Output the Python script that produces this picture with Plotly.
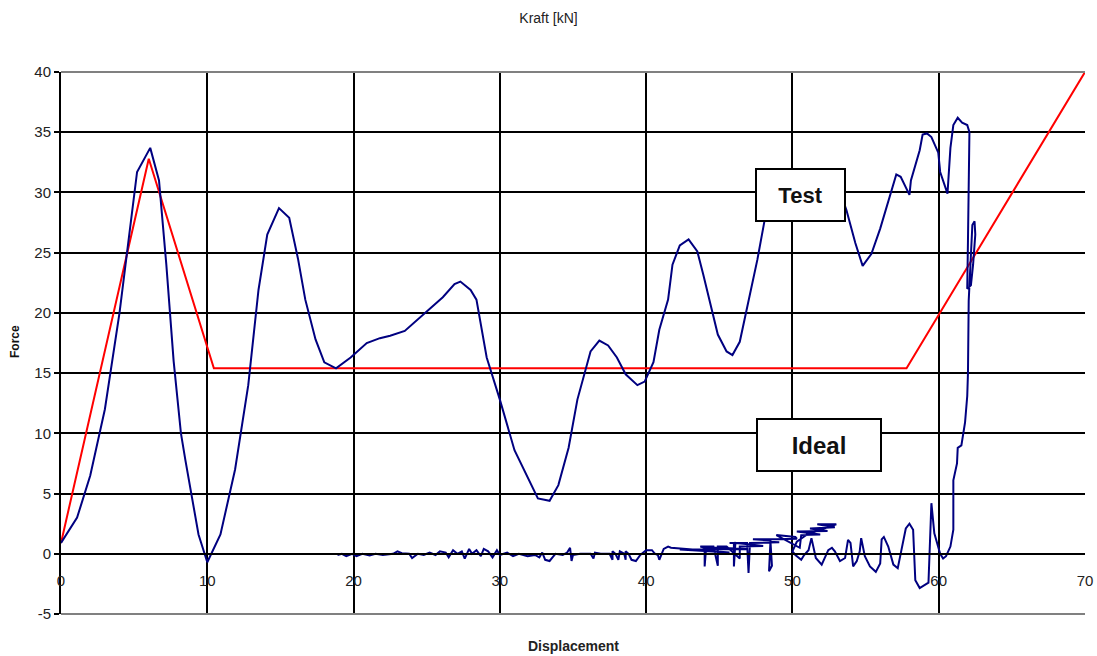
import plotly.graph_objects as go

# Ideal curve
ideal_x = [0, 6.0, 10.45, 57.8, 70]
ideal_y = [0.9, 32.8, 15.4, 15.4, 40]

# Test curve - main loading part
main_x = [0, 1.1, 2.0, 3.0, 4.0, 4.6, 5.2, 6.1, 6.7, 7.2, 7.7, 8.2, 8.5, 9.4, 10.0, 10.9, 11.9, 12.8,
          13.5, 14.1, 14.9, 15.6, 16.2, 16.7, 17.4, 18.0, 18.8, 19.8, 20.9, 21.8, 22.5, 23.5, 25.0,
          26.1, 26.9, 27.3, 28.0, 28.4, 29.1, 30.0, 31.0, 31.9, 32.6, 33.4, 34.0, 34.7, 35.3, 36.2,
          36.8, 37.4, 38.0, 38.6, 39.4, 39.9, 40.5, 40.9, 41.5, 41.8, 42.3, 42.9, 43.5, 43.9, 44.4,
          44.9, 45.5, 45.9, 46.4, 46.96, 47.6, 48.1, 48.5, 49.5, 51.0, 52.5, 53.5, 53.7, 54.3, 54.8,
          55.4, 56.0, 56.5, 57.1, 57.4, 57.7, 58.0, 58.1, 58.7, 58.9, 59.2, 59.5, 59.97, 60.1, 60.6,
          60.8, 61.0, 61.3, 61.6, 61.95, 62.1, 62.0, 61.95, 62.2, 62.35, 62.5, 62.45, 62.3, 62.2,
          62.05, 62.0, 61.95, 61.8, 61.55, 61.3, 61.25, 61.0, 61.0, 60.8, 60.5, 60.3, 60.1]
main_y = [0.9, 3.0, 6.5, 12.0, 20.0, 26.0, 31.7, 33.7, 31.0, 24.0, 16.0, 10.0, 7.8, 1.6, -0.7, 1.6, 7.0, 14.0,
          21.9, 26.5, 28.7, 27.9, 24.5, 21.1, 17.8, 15.9, 15.4, 16.3, 17.5, 17.9, 18.1, 18.5, 20.1,
          21.3, 22.4, 22.6, 21.9, 21.1, 16.3, 12.8, 8.6, 6.3, 4.6, 4.4, 5.7, 8.8, 12.8, 16.8,
          17.7, 17.3, 16.3, 14.9, 14.0, 14.3, 15.9, 18.6, 21.1, 24.0, 25.6, 26.1, 25.1, 23.2, 20.7,
          18.2, 16.8, 16.5, 17.6, 20.7, 24.4, 27.7, 29.4, 30.5, 31.0, 30.5, 29.2, 28.5, 25.8, 23.9,
          24.9, 27.0, 29.0, 31.5, 31.3, 30.5, 29.8, 31.0, 33.5, 34.8, 34.9, 34.6, 33.3, 31.7, 29.9,
          33.7, 35.6, 36.2, 35.8, 35.6, 35.0, 26.0, 22.0, 22.3, 24.0, 26.5, 27.6, 27.3, 25.0,
          21.0, 15.0, 13.1, 10.9, 9.0, 8.8, 7.5, 6.1, 2.0, 0.6, -0.2, -0.4, 0.0]

# Test curve - unloading / return part near zero force
ret_x = [59.7, 59.5, 59.3, 58.7, 58.4, 58.25, 58.0, 57.75, 57.45, 57.2, 56.9, 56.55, 56.25, 56.1, 56.0,
         55.7, 55.3, 54.95, 54.7, 54.6, 54.4, 54.15, 53.97, 53.8, 53.6, 53.25, 52.9, 52.7, 52.45, 52.2,
         52.0, 51.6, 51.4, 51.3, 51.1, 50.8, 50.6, 50.2, 50.0, 50.3, 51.0, 52.5, 53.0,
         51.7, 52.4, 52.9, 51.2, 52.0, 52.4, 50.3, 51.5, 51.9, 50.6, 50.5, 48.9, 50.2, 50.3,
         49.0, 48.9, 47.3, 48.5, 48.4, 48.6, 48.5, 49.1, 47.1, 47.0, 46.9, 45.7, 46.0, 46.0, 46.1,
         47.0, 48.0, 46.4, 46.4, 45.5, 44.9, 44.9, 44.6, 43.7, 44.0, 44.0, 44.1, 45.0, 46.9, 42.3,
         44.0, 45.7, 41.7, 41.5, 41.2, 40.9, 40.8, 40.6, 40.4, 40.0, 39.6, 39.3, 39.0, 38.8, 38.6,
         38.6, 38.5, 38.2, 38.1, 37.9, 37.7, 37.7, 37.5, 36.9, 36.5, 36.4, 36.2, 35.5, 35.0, 34.9,
         34.8, 34.6, 34.3, 33.8, 33.6, 33.4, 33.1, 32.9, 32.7, 32.4, 31.9, 31.3, 30.9, 30.5, 30.0,
         29.8, 29.5, 29.2, 28.9, 28.7, 28.4, 28.1, 27.9, 27.6, 27.4, 27.1, 26.8, 26.5, 26.3, 25.9,
         25.6, 25.2, 24.8, 24.4, 24.0, 23.8, 23.3, 23.0, 22.7, 22.0, 21.5, 21.1, 20.6, 20.2, 19.9,
         19.5, 19.2, 18.9]
ret_y = [1.7, 4.2, -2.4, -2.85, -2.2, 2.0, 2.5, 2.1, 0.3, -1.2, -0.9, 0.6, 1.4, 1.2, -0.8,
         -1.5, -1.05, -0.2, 1.3, 0.2, -0.6, -1.05, 0.9, 1.15, -0.35, -0.6, 0.2, 0.5, 0.3, -0.35,
         -0.9, -0.35, 0.75, 1.3, 0.3, -0.1, -0.5, -0.1, 0.2, 1.0, 1.6, 2.2, 2.45,
         2.45, 2.3, 2.2, 2.1, 2.0, 1.9, 1.85, 1.7, 1.6, 1.55, 0.5, 1.55, 1.4, 1.25,
         1.2, 1.2, 1.2, 1.1, -1.45, -1.0, 1.0, 0.95, 0.9, -1.6, 0.9, 0.9, 0.9, -1.05, 0.9,
         0.8, 0.65, 0.6, -0.4, 0.6, 0.6, -1.0, 0.6, 0.6, 0.5, -1.05, 0.5, 0.5, 0.4, 0.35,
         0.2, 0.1, 0.5, 0.6, 0.4, -0.5, -0.1, 0.0, 0.3, 0.3, -0.1, -0.6, -0.5, 0.0, 0.2,
         -0.5, 0.0, 0.2, -0.5, 0.0, 0.2, -0.5, 0.0, 0.0, 0.1, -0.4, 0.0, 0.0, -0.1, -0.6,
         0.5, 0.1, -0.1, 0.0, -0.3, -0.6, -0.5, 0.1, -0.3, -0.1, -0.2, 0.0, -0.2, 0.1, -0.1,
         0.3, -0.3, 0.2, 0.4, -0.2, 0.3, 0.0, 0.4, -0.4, 0.2, 0.0, 0.3, -0.3, 0.1, 0.2,
         -0.1, 0.1, -0.1, 0.0, -0.35, 0.0, 0.05, 0.2, 0.0, -0.1, 0.0, -0.15, 0.0, -0.2, 0.0,
         -0.2, 0.0, -0.1]

x_ticks = [0, 10, 20, 30, 40, 50, 60, 70]
y_ticks = [-5, 0, 5, 10, 15, 20, 25, 30, 35, 40]
y_tick_text = ["-5", "0", "5", "10", "15", "20", "25", "30", "35", "40"]

test_x = main_x + ret_x
test_y = main_y + ret_y

fig = go.Figure()
fig.add_trace(go.Scatter(x=ideal_x, y=ideal_y, mode="lines", name="Ideal",
                         line=dict(color="#FF0000", width=2)))
fig.add_trace(go.Scatter(x=test_x, y=test_y, mode="lines", name="Test",
                         line=dict(color="#000080", width=2)))

font_family = "Liberation Sans, Arial, sans-serif"

fig.update_layout(
    width=1097, height=656,
    margin=dict(l=61, r=12, t=72, b=42, autoexpand=False),
    paper_bgcolor="white", plot_bgcolor="white",
    showlegend=False,
    font=dict(family=font_family, size=15, color="#222"),
    title=dict(text="Kraft [kN]", x=0.5, xref="container", xanchor="center",
               y=1 - 18 / 656, yref="container", yanchor="middle",
               font=dict(size=14, color="#222", family=font_family)),
    xaxis=dict(range=[0, 70], tickvals=x_ticks, showgrid=True, gridcolor="black", gridwidth=1.5,
               zeroline=False, showline=True, linecolor="black", linewidth=2, automargin=False,
               anchor="free", position=5 / 45, ticks="outside", ticklen=13,
               tickcolor="rgba(0,0,0,0)", tickfont=dict(size=15, color="#222")),
    yaxis=dict(range=[-5, 40], tickvals=y_ticks, ticktext=y_tick_text, showgrid=True,
               gridcolor="black", gridwidth=1.5, automargin=False,
               zeroline=False, showline=True, linecolor="black", linewidth=2,
               ticks="outside", ticklen=5, tickwidth=2, tickcolor="black",
               tickfont=dict(size=15, color="#222")),
    shapes=[
        dict(type="line", xref="paper", yref="paper", x0=0, x1=1, y0=1, y1=1,
             line=dict(color="#808080", width=2), layer="above"),
        dict(type="line", xref="paper", yref="paper", x0=0, x1=1, y0=0, y1=0,
             line=dict(color="#808080", width=2), layer="above"),
    ],
    annotations=[
        dict(text="<b>Displacement</b>", xref="paper", yref="paper", x=0.5, y=-32 / 542,
             showarrow=False, font=dict(size=14, color="#222"), yanchor="middle"),
        dict(text="<b>Force</b>", xref="paper", yref="paper", x=-46 / 1024, y=(614 - 342) / 542,
             showarrow=False, textangle=-90, font=dict(size=12, color="#111"),
             xanchor="center", yanchor="middle"),
        dict(text="<b>Test</b>", x=50.55, y=29.8, xref="x", yref="y", showarrow=False,
             font=dict(size=22, color="#111"), bgcolor="white", bordercolor="black",
             borderwidth=2, borderpad=0, width=87, height=50),
        dict(text="<b>Ideal</b>", x=51.8, y=9.05, xref="x", yref="y", showarrow=False,
             font=dict(size=24, color="#111"), bgcolor="white", bordercolor="black",
             borderwidth=2, borderpad=0, width=122, height=50),
    ],
)

fig.write_html("out.html")
